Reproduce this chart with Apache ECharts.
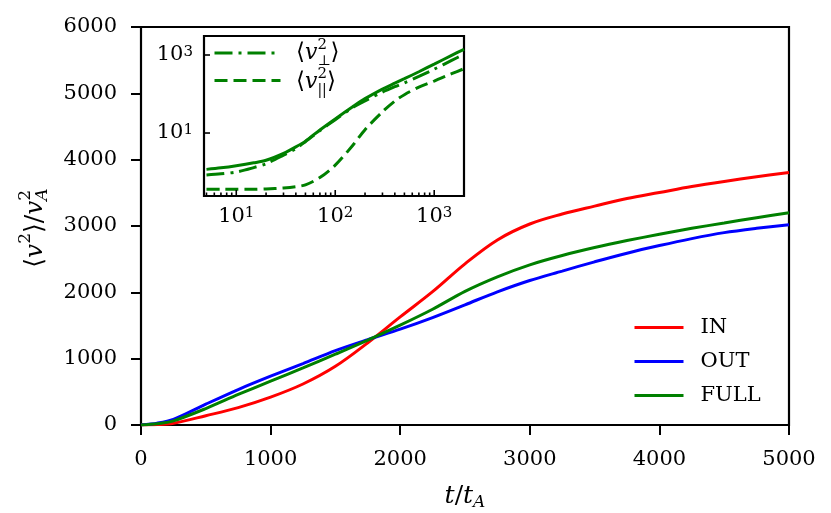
<!DOCTYPE html>
<html><head><meta charset="utf-8">
<script src="https://cdn.jsdelivr.net/npm/echarts@6/dist/echarts.min.js"></script>
<style>html,body{margin:0;padding:0;background:#fff}#c{width:831px;height:513px}</style>
</head><body><div id="c"></div>
<script>
// ---- main panel data ----
const tMain  = [0, 125, 250, 500, 750, 1000, 1250, 1500, 1750, 2000, 2250, 2500, 2750, 3000, 3250, 3500, 3750, 4000, 4250, 4500, 4750, 5000];
const vIn    = [0, 6, 27, 140, 262, 420, 618, 885, 1240, 1630, 2010, 2430, 2790, 3030, 3180, 3300, 3415, 3505, 3595, 3672, 3742, 3805];
const vOut   = [0, 28, 85, 314, 535, 736, 926, 1122, 1288, 1445, 1620, 1812, 2008, 2179, 2320, 2460, 2590, 2705, 2810, 2900, 2965, 3020];
const vFull  = [0, 18, 62, 248, 460, 661, 860, 1068, 1280, 1505, 1745, 2015, 2234, 2415, 2555, 2675, 2780, 2875, 2965, 3045, 3125, 3200];
const mainXTicks = [0, 1000, 2000, 3000, 4000, 5000];
const mainYTicks = [0, 1000, 2000, 3000, 4000, 5000, 6000];
const legendNames = ['IN', 'OUT', 'FULL'];

// ---- inset data (log-log) ----
const tInset     = [5, 7, 10, 15, 20, 30, 40, 50, 70, 100, 150, 200, 300, 400, 500, 700, 1000, 1500, 2000];
const vFullInset = [1.17, 1.28, 1.45, 1.72, 2.0, 3.0, 4.4, 6.2, 12, 23, 47, 76, 134, 190, 247, 372, 584, 980, 1400];
const vPerp      = [0.84, 0.9, 1.0, 1.3, 1.63, 2.7, 4.0, 6.0, 11.5, 22, 45, 67, 112, 154, 193, 284, 433, 725, 1043];
const vPar       = [0.36, 0.36, 0.36, 0.36, 0.37, 0.39, 0.42, 0.47, 0.72, 1.5, 4.8, 12.2, 35, 66, 96, 150, 215, 332, 445];
const insetXMajor = [10, 100, 1000];
const insetXMinor = [5, 6, 7, 8, 9, 20, 30, 40, 50, 60, 70, 80, 90, 200, 300, 400, 500, 600, 700, 800, 900];
const insetYMajor = [10, 1000];
const insetXMin = 4.72, insetXMax = 2000, insetYMin = 0.243, insetYMax = 3070;

const FF = '"DejaVu Serif", serif';
const pairs = (xs, ys) => xs.map((x, i) => [x, ys[i]]);

// ---- math-like text builder (graphic) ----
const MC = document.createElement('canvas').getContext('2d');
function tw(t, font) { MC.font = font; return MC.measureText(t).width; }
function mathGroup(pieces, pos, rot, center) {
  let x = 0, lastX = 0;
  const kids = [];
  pieces.forEach(p => {
    const font = (p.it ? 'italic ' : '') + p.s + 'px ' + FF;
    const wdt = tw(p.t, font);
    let px;
    if (p.stack) { px = lastX; x = Math.max(x, px + wdt); }
    else { px = x; lastX = px; x = px + wdt; }
    kids.push({ type: 'text', x: px + (p.dx || 0), y: p.dy || 0,
      style: { text: p.t, font: font, fill: '#000', textAlign: 'left', textVerticalAlign: 'middle', align: 'left', verticalAlign: 'middle' } });
  });
  if (center) kids.forEach(k => { k.x -= x / 2; });
  return { type: 'group', x: pos[0], y: pos[1], rotation: rot || 0, silent: true, children: kids };
}

const yName = mathGroup([
  { t: '⟨', s: 25 }, { t: 'v', s: 25, it: 1 }, { t: '2', s: 17, dy: -9 }, { t: '⟩/', s: 25 },
  { t: 'v', s: 25, it: 1 }, { t: '2', s: 17, dy: -9 }, { t: 'A', s: 17, it: 1, dy: 8, stack: 1 }
], [35, 228], Math.PI / 2, true);
const xName = mathGroup([
  { t: 't', s: 25, it: 1 }, { t: '/', s: 25 }, { t: 't', s: 25, it: 1 }, { t: 'A', s: 17, it: 1, dy: 7 }
], [465, 496], 0, true);
const perpLabel = mathGroup([
  { t: '⟨', s: 23 }, { t: 'v', s: 22, it: 1 }, { t: '2', s: 15, dy: -8 }, { t: '⊥', s: 14, dy: 8, stack: 1 }, { t: '⟩', s: 23 }
], [296, 53], 0, false);
const parLabel = mathGroup([
  { t: '⟨', s: 23 }, { t: 'v', s: 22, it: 1 }, { t: '2', s: 15, dy: -8 }, { t: '||', s: 14, dy: 8, stack: 1 }, { t: '⟩', s: 23 }
], [296, 82], 0, false);

function isPow10(v) { const l = Math.log10(v); return Math.abs(l - Math.round(l)) < 1e-6; }
const supRich = { b: { fontFamily: FF, fontSize: 21, color: '#000' }, s: { fontFamily: FF, fontSize: 15, color: '#000', verticalAlign: 'top' } };

const chart = echarts.init(document.getElementById('c'), null, { renderer: 'canvas' });
chart.setOption({
  animation: false,
  backgroundColor: '#fff',
  grid: [
    { left: 141, top: 27, right: 42, bottom: 88, show: true, borderColor: '#000', borderWidth: 2.2, backgroundColor: 'transparent' },
    { left: 204, top: 36, width: 260, height: 160, show: true, borderColor: '#000', borderWidth: 2.2, backgroundColor: '#fff' }
  ],
  xAxis: [
    { type: 'value', gridIndex: 0, min: mainXTicks[0], max: mainXTicks[mainXTicks.length - 1], interval: 1000,
      axisLine: { show: false }, splitLine: { show: false },
      axisTick: { show: true, length: 10, inside: false, lineStyle: { color: '#000', width: 2 } },
      axisLabel: { color: '#000', fontFamily: FF, fontSize: 21, margin: 24, formatter: v => String(v) } },
    { type: 'log', gridIndex: 1, logBase: 10, min: insetXMin, max: insetXMax,
      axisLine: { show: false }, splitLine: { show: false }, axisTick: { show: false }, minorTick: { show: false },
      axisLabel: { margin: 10, formatter: v => isPow10(v) && insetXMajor.some(m => Math.abs(m - v) < 1e-6) ? '{b|10}{s|' + Math.round(Math.log10(v)) + '}' : '',
        rich: supRich } }
  ],
  yAxis: [
    { type: 'value', gridIndex: 0, min: mainYTicks[0], max: mainYTicks[mainYTicks.length - 1], interval: 1000,
      axisLine: { show: false }, splitLine: { show: false },
      axisTick: { show: true, length: 10, inside: false, lineStyle: { color: '#000', width: 2 } },
      axisLabel: { color: '#000', fontFamily: FF, fontSize: 21, margin: 24, formatter: v => String(v) } },
    { type: 'log', gridIndex: 1, logBase: 10, min: insetYMin, max: insetYMax,
      axisLine: { show: false }, splitLine: { show: false }, axisTick: { show: false }, minorTick: { show: false },
      axisLabel: { margin: 11, formatter: v => insetYMajor.some(m => Math.abs(m - v) / m < 1e-6) ? '{b|10}{s|' + Math.round(Math.log10(v)) + '}' : '',
        rich: supRich } }
  ],
  legend: [
    { data: legendNames, orient: 'vertical', left: 633, top: 317, padding: 0, itemWidth: 49, itemHeight: 20, itemGap: 13,
      selectedMode: false, itemStyle: { opacity: 0 }, lineStyle: { width: 3 },
      textStyle: { fontFamily: FF, fontSize: 21, color: '#000', padding: [0, 0, 0, 12] } },
    { data: ['perp', 'par'], orient: 'vertical', left: 213, top: 46, padding: 0, itemWidth: 66, itemHeight: 14, itemGap: 15,
      selectedMode: false, itemStyle: { opacity: 0 }, lineStyle: { width: 3 }, formatter: () => '', textStyle: { fontSize: 1 } }
  ],
  graphic: [yName, xName, perpLabel, parLabel],
  series: [
    { name: 'IN', type: 'line', xAxisIndex: 0, yAxisIndex: 0, data: pairs(tMain, vIn), symbol: 'none', smooth: 0.35,
      color: '#ff0000', lineStyle: { color: '#ff0000', width: 3 } },
    { name: 'OUT', type: 'line', xAxisIndex: 0, yAxisIndex: 0, data: pairs(tMain, vOut), symbol: 'none', smooth: 0.3,
      color: '#0000ff', lineStyle: { color: '#0000ff', width: 3 } },
    { name: 'FULL', type: 'line', xAxisIndex: 0, yAxisIndex: 0, data: pairs(tMain, vFull), symbol: 'none', smooth: 0.3,
      color: '#008000', lineStyle: { color: '#008000', width: 3 } },
    { name: 'fullInset', type: 'line', xAxisIndex: 1, yAxisIndex: 1, data: pairs(tInset, vFullInset), symbol: 'none', smooth: 0.3,
      color: '#008000', lineStyle: { color: '#008000', width: 3 }, z: 5 },
    { name: 'perp', type: 'line', xAxisIndex: 1, yAxisIndex: 1, data: pairs(tInset, vPerp), symbol: 'none', smooth: 0.3,
      color: '#008000', lineStyle: { color: '#008000', width: 3, type: [18, 6, 3, 6] }, z: 5 },
    { name: 'par', type: 'line', xAxisIndex: 1, yAxisIndex: 1, data: pairs(tInset, vPar), symbol: 'none', smooth: 0.3,
      color: '#008000', lineStyle: { color: '#008000', width: 3, type: [13, 6] }, z: 5 },
    { name: 'xticks', type: 'custom', xAxisIndex: 1, yAxisIndex: 1, silent: true, z: 6,
      data: insetXMajor.map(v => [v, 1, 1]).concat(insetXMinor.map(v => [v, 1, 0])),
      renderItem: (params, api) => {
        const cs = params.coordSys;
        const x = api.coord([api.value(0), 1])[0];
        const yb = cs.y + cs.height;
        const len = api.value(2) ? 6 : 3.5;
        return { type: 'line', shape: { x1: x, y1: yb, x2: x, y2: yb - len }, style: { stroke: '#000', lineWidth: 1.6 } };
      } },
    { name: 'yticks', type: 'custom', xAxisIndex: 1, yAxisIndex: 1, silent: true, z: 6,
      data: insetYMajor.map(v => [10, v]),
      renderItem: (params, api) => {
        const cs = params.coordSys;
        const y = api.coord([10, api.value(1)])[1];
        return { type: 'line', shape: { x1: cs.x, y1: y, x2: cs.x + 6, y2: y }, style: { stroke: '#000', lineWidth: 1.6 } };
      } }
  ]
});
</script></body></html>
